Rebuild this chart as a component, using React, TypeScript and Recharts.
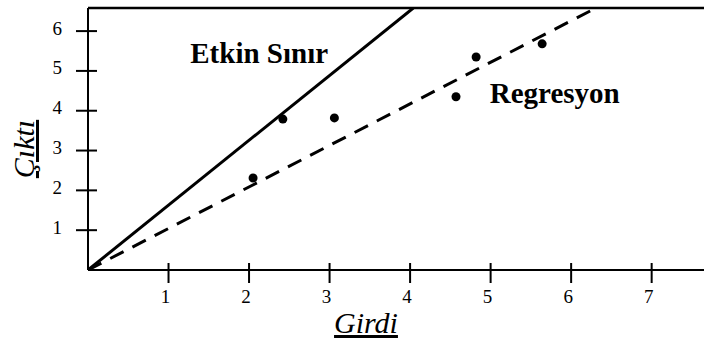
import {
  ComposedChart,
  Line,
  Scatter,
  XAxis,
  YAxis,
  ReferenceLine,
  ReferenceDot,
} from "recharts";

const SERIF = "Liberation Serif, Times New Roman, DejaVu Serif, serif";
const INK = "#000";

const W = 704;
const H = 342;

// axis extents
const X_MAX = 7.65;
const Y_MAX = 6.58;
const X_TICKS = [1, 2, 3, 4, 5, 6, 7];
const Y_TICKS = [1, 2, 3, 4, 5, 6];

const observations = [
  { x: 2.05, y: 2.31 },
  { x: 2.42, y: 3.79 },
  { x: 3.06, y: 3.82 },
  { x: 4.57, y: 4.35 },
  { x: 4.82, y: 5.35 },
  { x: 5.64, y: 5.68 },
];

const frontier = [
  { x: 0, y: 0 },
  { x: 4.04, y: 6.58 },
];

const regression = [
  { x: 0, y: 0 },
  { x: 6.25, y: 6.52 },
];

const annotations = [
  { text: "Etkin Sınır", x: 1.27, y: 5.2 },
  { text: "Regresyon", x: 4.99, y: 4.2 },
];

// tick marks cross the axis, so draw them ourselves
function XTick(props: any) {
  const { x, y, payload } = props;
  return (
    <g>
      <line x1={x} y1={y - 7} x2={x} y2={y + 13} stroke={INK} strokeWidth={2} />
      <text
        x={x - 3}
        y={y + 26}
        textAnchor="middle"
        dominantBaseline="central"
        fontFamily={SERIF}
        fontSize={19}
        fill={INK}
      >
        {payload.value}
      </text>
    </g>
  );
}

function YTick(props: any) {
  const { x, y, payload } = props;
  return (
    <g>
      <line x1={x - 12} y1={y} x2={x + 9} y2={y} stroke={INK} strokeWidth={2} />
      <text
        x={x - 26}
        y={y - 3}
        textAnchor="end"
        dominantBaseline="central"
        fontFamily={SERIF}
        fontSize={19}
        fill={INK}
      >
        {payload.value}
      </text>
    </g>
  );
}

function XTitle(props: any) {
  const vb = props.viewBox || { x: 0, y: 0, width: 0, height: 0 };
  return (
    <text
      x={vb.x + vb.width / 2 - 30}
      y={vb.y + 63}
      textAnchor="middle"
      fontFamily={SERIF}
      fontSize={30}
      fontStyle="italic"
      fill={INK}
      textDecoration="underline"
    >
      Girdi
    </text>
  );
}

function YTitle(props: any) {
  const vb = props.viewBox || { x: 0, y: 0, width: 0, height: 0 };
  const cx = vb.x + 34;
  const cy = vb.y + vb.height / 2 + 10;
  return (
    <text
      x={cx}
      y={cy}
      transform={`rotate(-90 ${cx} ${cy})`}
      textAnchor="middle"
      fontFamily={SERIF}
      fontSize={30}
      fontStyle="italic"
      fill={INK}
      textDecoration="underline"
    >
      Çıktı
    </text>
  );
}

export default function App() {
  return (
    <div style={{ width: W, height: H, background: "#fff" }}>
      <style>{`body{margin:0;background:#fff}`}</style>
      <ComposedChart
        width={W}
        height={H}
        margin={{ top: 8, right: 0, bottom: 0, left: 0 }}
      >
        <XAxis
          type="number"
          dataKey="x"
          domain={[0, X_MAX]}
          ticks={X_TICKS}
          interval={0}
          allowDataOverflow
          height={72}
          tickSize={0}
          tickMargin={0}
          tickLine={false}
          axisLine={{ stroke: INK, strokeWidth: 2 }}
          tick={<XTick />}
          label={<XTitle />}
        />
        <YAxis
          type="number"
          dataKey="y"
          domain={[0, Y_MAX]}
          ticks={Y_TICKS}
          interval={0}
          allowDataOverflow
          width={88}
          tickSize={0}
          tickMargin={0}
          tickLine={false}
          axisLine={{ stroke: INK, strokeWidth: 2 }}
          tick={<YTick />}
          label={<YTitle />}
        />
        <ReferenceLine y={Y_MAX} stroke={INK} strokeWidth={2.5} />
        <Line
          data={frontier}
          dataKey="y"
          type="linear"
          stroke={INK}
          strokeWidth={3}
          dot={false}
          activeDot={false}
          isAnimationActive={false}
        />
        <Line
          data={regression}
          dataKey="y"
          type="linear"
          stroke={INK}
          strokeWidth={3}
          strokeDasharray="15 10"
          dot={false}
          activeDot={false}
          isAnimationActive={false}
        />
        <Scatter
          data={observations}
          fill={INK}
          isAnimationActive={false}
          shape={(p: any) => <circle cx={p.cx} cy={p.cy} r={4.5} fill={INK} />}
        />
        {annotations.map((a) => (
          <ReferenceDot
            key={a.text}
            x={a.x}
            y={a.y}
            shape={(p: any) => (
              <text
                x={p.cx}
                y={p.cy}
                textAnchor="start"
                fontFamily={SERIF}
                fontSize={29}
                fontWeight={700}
                fill={INK}
              >
                {a.text}
              </text>
            )}
          />
        ))}
      </ComposedChart>
    </div>
  );
}
